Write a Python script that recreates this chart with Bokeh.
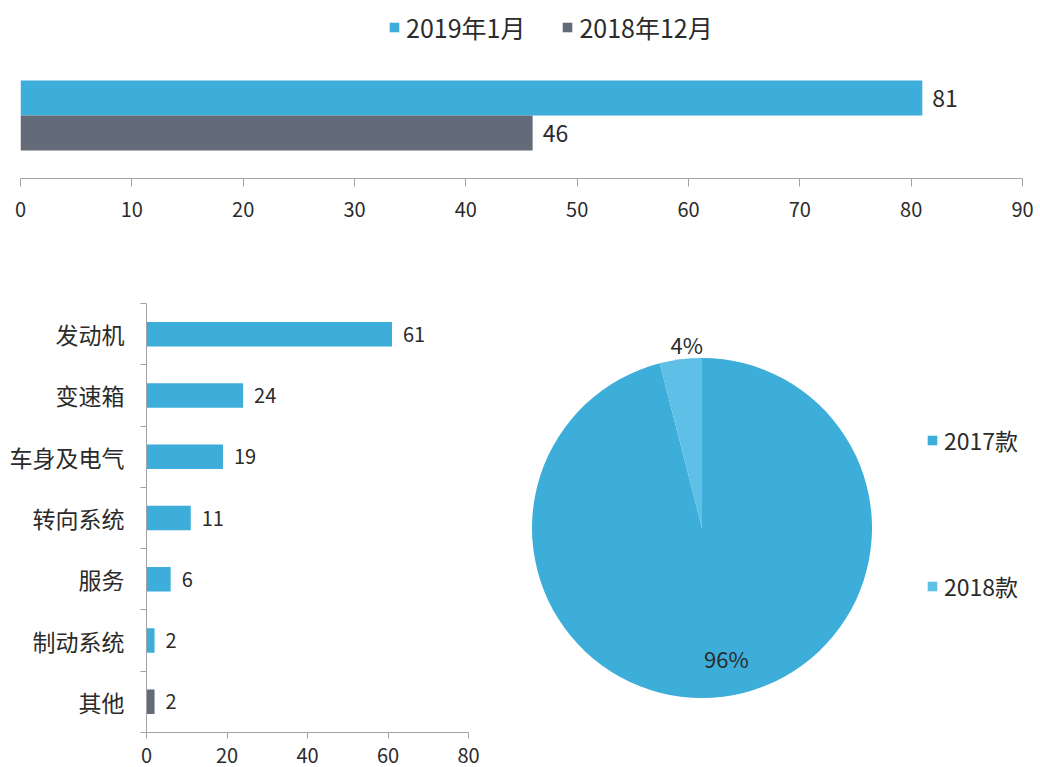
import math
from bokeh.plotting import figure
from bokeh.layouts import column, row
from bokeh.models import Range1d, Legend, LegendItem, FixedTicker, ColumnDataSource
from bokeh.embed import file_html
from bokeh.resources import INLINE
from bokeh.core.properties import value

# ---------------- data ----------------
month_series = ["2019年1月", "2018年12月"]
month_values = [81, 46]

fault_categories = ["发动机", "变速箱", "车身及电气", "转向系统", "服务", "制动系统", "其他"]
fault_values = [61, 24, 19, 11, 6, 2, 2]

model_labels = ["2017款", "2018款"]
model_shares = [96, 4]

top_ticks = [0, 10, 20, 30, 40, 50, 60, 70, 80, 90]
fault_ticks = [0, 20, 40, 60, 80]

# ---------------- styles ----------------
BLUE = "#3DADD9"
GRAY = "#646B78"
LIGHT = "#5EC0E6"
AXIS = "#A3A3A3"
TXT = "#2B2B2B"
FONT = "Noto Sans CJK SC"

month_colors = [BLUE, GRAY]
fault_colors = [BLUE] * (len(fault_categories) - 1) + [GRAY]
model_colors = [BLUE, LIGHT]


def style_axis(ax, size="20px"):
    ax.axis_line_color = AXIS
    ax.major_tick_line_color = AXIS
    ax.minor_tick_line_color = None
    ax.major_label_text_font = FONT
    ax.major_label_text_font_size = size
    ax.major_label_text_color = TXT


def style_legend(leg, size):
    leg.glyph_width = 12
    leg.glyph_height = 12
    leg.label_height = 24
    leg.label_standoff = 6
    leg.padding = 0
    leg.margin = 0
    leg.border_line_color = None
    leg.background_fill_alpha = 0
    leg.label_text_font = FONT
    leg.label_text_font_size = size
    leg.label_text_color = TXT


# ---------------- top: monthly bars ----------------
n_m = len(month_series)
top = figure(width=1040, height=248, x_range=Range1d(0, 90),
             y_range=Range1d(-1.3, 3.786), y_axis_location=None,
             output_backend="svg", toolbar_location=None,
             min_border_left=20, min_border_right=18, min_border_top=0,
             min_border_bottom=70)
top.outline_line_color = None
top.xgrid.visible = False
top.ygrid.visible = False
msrc = ColumnDataSource(dict(y=[n_m - 1 - i for i in range(n_m)], v=month_values,
                             c=month_colors, t=[str(v) for v in month_values]))
mr = top.hbar(y="y", left=0, right="v", height=1.0, fill_color="c", line_color=None,
              source=msrc)
top.text(x="v", y="y", text="t", source=msrc, x_offset=10, text_baseline="middle",
         text_font=value(FONT), text_font_size="23px", text_color=TXT)
style_axis(top.xaxis[0])
top.xaxis.ticker = FixedTicker(ticks=top_ticks)
top.xaxis.major_tick_in = 0
top.xaxis.major_tick_out = 8
top.xaxis.major_label_standoff = 15
tleg = Legend(items=[LegendItem(label=month_series[i], renderers=[mr], index=i)
                     for i in range(n_m)],
              orientation="horizontal", location=(368, 133))
style_legend(tleg, "25px")
tleg.spacing = 36
top.add_layout(tleg, "center")

# ---------------- bottom-left: fault categories ----------------
n_f = len(fault_categories)
centers = [n_f - 1 - i for i in range(n_f)]
bounds = [c - 0.5 for c in range(n_f)] + [n_f - 0.5]
BT, BB = 55, 35
bl = figure(width=500, height=519, x_range=Range1d(0, 80),
            y_range=Range1d(-0.5, n_f - 0.5),
            output_backend="svg", toolbar_location=None,
            min_border_left=146, min_border_right=32, min_border_top=BT,
            min_border_bottom=BB)
bl.outline_line_color = None
bl.xgrid.visible = False
bl.ygrid.visible = False
fsrc = ColumnDataSource(dict(y=centers, v=fault_values, c=fault_colors,
                             t=[str(v) for v in fault_values]))
bl.hbar(y="y", left=0, right="v", height=0.4, fill_color="c", line_color=None,
        source=fsrc)
bl.text(x="v", y="y", text="t", source=fsrc, x_offset=11, text_baseline="middle",
        text_font=value(FONT), text_font_size="20px", text_color=TXT)
style_axis(bl.xaxis[0])
bl.xaxis.ticker = FixedTicker(ticks=fault_ticks)
bl.xaxis.major_tick_in = 0
bl.xaxis.major_tick_out = 6
bl.xaxis.major_label_standoff = 9
ya = bl.yaxis[0]
style_axis(ya, "23px")
ya.ticker = FixedTicker(ticks=centers, minor_ticks=bounds)
ya.major_tick_line_color = None
ya.major_tick_out = 0
ya.major_tick_in = 0
ya.minor_tick_line_color = AXIS
ya.minor_tick_out = 6
ya.minor_tick_in = 0
ya.major_label_standoff = 16
ya.major_label_overrides = {centers[i]: fault_categories[i] for i in range(n_f)}

# ---------------- bottom-right: pie ----------------
R = 170
# frame spans the same rows as the bar chart's frame; pie centre sits at frame (201.5, 204.5)
br = figure(width=540, height=519, x_range=Range1d(-201.5, 338.5),
            y_range=Range1d(-204.5, 224.5), x_axis_location=None,
            y_axis_location=None, output_backend="svg", toolbar_location=None,
            min_border_left=0, min_border_right=0, min_border_top=BT,
            min_border_bottom=BB)
br.outline_line_color = None
br.xgrid.visible = False
br.ygrid.visible = False
total = sum(model_shares)
cum = [0]
for s in model_shares:
    cum.append(cum[-1] + s)
starts = [math.pi / 2 - 2 * math.pi * cum[i] / total for i in range(len(model_shares))]
ends = [math.pi / 2 - 2 * math.pi * cum[i + 1] / total for i in range(len(model_shares))]
mids = [(a + b) / 2 for a, b in zip(starts, ends)]
lab_r = [0.77 * R, 1.09 * R]
psrc = ColumnDataSource(dict(s=starts, e=ends, c=model_colors,
                             lx=[lab_r[i] * math.cos(mids[i]) for i in range(len(mids))],
                             ly=[lab_r[i] * math.sin(mids[i]) for i in range(len(mids))],
                             t=[f"{v}%" for v in model_shares]))
pr = br.wedge(x=0, y=0, radius=R, start_angle="s", end_angle="e", direction="clock",
              fill_color="c", line_color=None, source=psrc)
br.text(x="lx", y="ly", text="t", source=psrc, text_align="center",
        text_baseline="middle", text_font=value(FONT), text_font_size="22px",
        text_color=TXT, x_offset=8)
pleg = Legend(items=[LegendItem(label=model_labels[i], renderers=[pr], index=i)
                     for i in range(len(model_labels))],
              orientation="vertical", location=(426, 129))
style_legend(pleg, "23px")
pleg.spacing = 112
br.add_layout(pleg, "center")

layout = column(top, row(bl, br))
open("out.html", "w").write(file_html(layout, INLINE))
